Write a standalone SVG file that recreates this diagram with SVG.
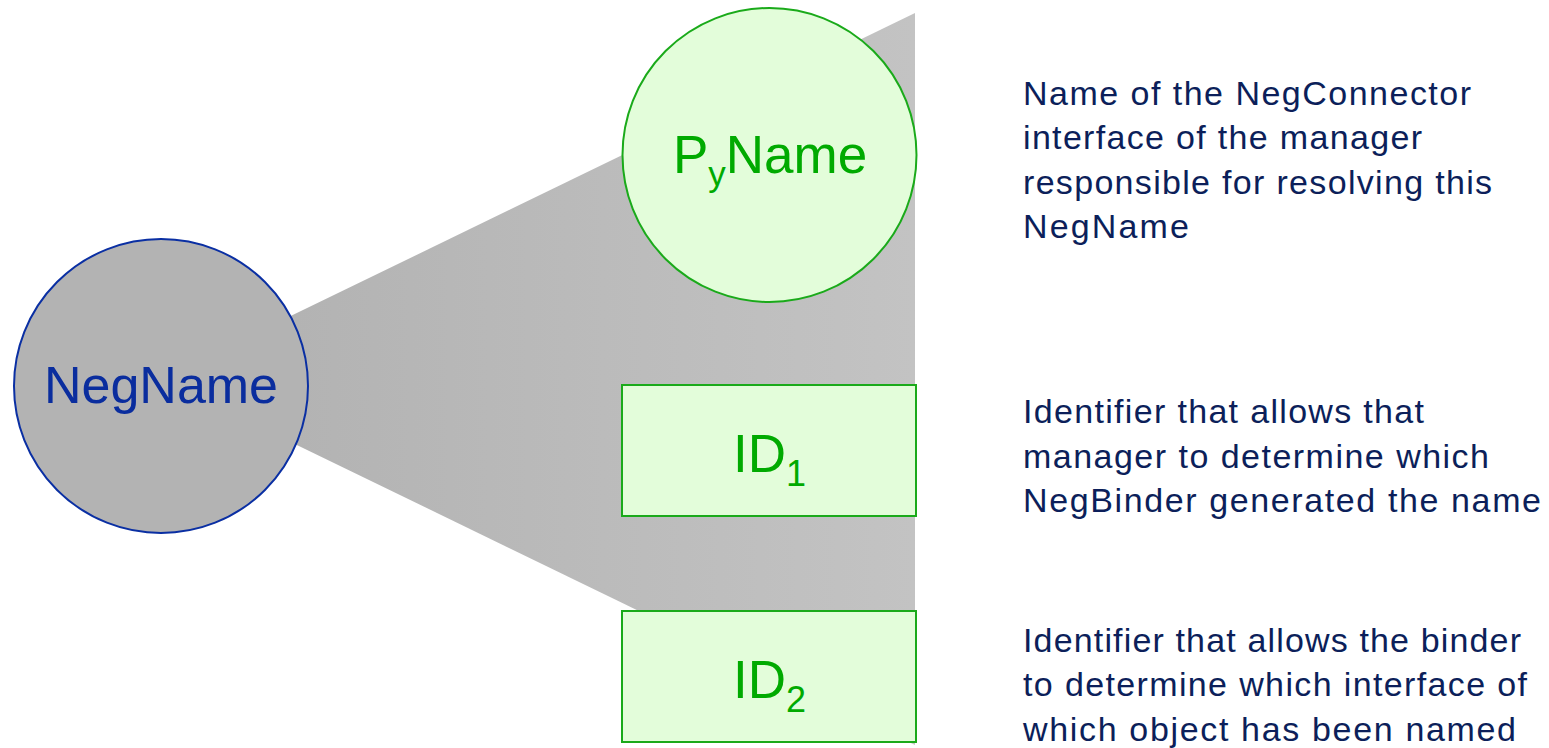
<svg xmlns="http://www.w3.org/2000/svg" width="1549" height="748" viewBox="0 0 1549 748">
  <defs>
    <linearGradient id="wedgeGrad" x1="295" y1="0" x2="915" y2="0" gradientUnits="userSpaceOnUse">
      <stop offset="0" stop-color="#b3b3b3"/>
      <stop offset="1" stop-color="#c3c3c3"/>
    </linearGradient>
    <style>
      .lbl { font-family: "Liberation Sans", Arial, sans-serif; }
      .green-shape { fill: #e3fdda; stroke: #1aaa1a; stroke-width: 2; }
      .green-text { fill: #00aa00; font-size: 53px; }
      .desc { fill: #0c1f5a; font-size: 34px; }
    </style>
  </defs>
  <rect width="1549" height="748" fill="#ffffff"/>

  <g id="connectors">
    <polygon points="161,379 915,13 915,745" fill="url(#wedgeGrad)"/>
  </g>

  <g id="negname">
    <circle cx="161" cy="386" r="147" fill="#b3b3b3" stroke="#0a2fa3" stroke-width="2"/>
    <text class="lbl" x="161" y="403" font-size="52" fill="#0a2d9e" text-anchor="middle">NegName</text>
  </g>

  <g id="pyname">
    <circle class="green-shape" cx="769.5" cy="155" r="147"/>
    <text class="lbl green-text" x="770" y="173" text-anchor="middle">P<tspan font-size="35" dy="13">y</tspan><tspan dy="-13">Name</tspan></text>
  </g>

  <g id="id1">
    <rect class="green-shape" x="622" y="385" width="294" height="131"/>
    <text class="lbl green-text" x="769.5" y="472" text-anchor="middle">ID<tspan font-size="36" dy="14">1</tspan></text>
  </g>

  <g id="id2">
    <rect class="green-shape" x="622" y="611" width="294" height="131"/>
    <text class="lbl green-text" x="769.5" y="698" text-anchor="middle">ID<tspan font-size="36" dy="14">2</tspan></text>
  </g>

  <g id="desc-pyname">
    <text class="lbl desc" x="1023" y="105" textLength="448" lengthAdjust="spacing">Name of the NegConnector</text>
    <text class="lbl desc" x="1023" y="149" textLength="399" lengthAdjust="spacing">interface of the manager</text>
    <text class="lbl desc" x="1023" y="194" textLength="469" lengthAdjust="spacing">responsible for resolving this</text>
    <text class="lbl desc" x="1023" y="238" textLength="166" lengthAdjust="spacing">NegName</text>
  </g>

  <g id="desc-id1">
    <text class="lbl desc" x="1023" y="423" textLength="401" lengthAdjust="spacing">Identifier that allows that</text>
    <text class="lbl desc" x="1023" y="468" textLength="466" lengthAdjust="spacing">manager to determine which</text>
    <text class="lbl desc" x="1023" y="512" textLength="518" lengthAdjust="spacing">NegBinder generated the name</text>
  </g>

  <g id="desc-id2">
    <text class="lbl desc" x="1023" y="652" textLength="498" lengthAdjust="spacing">Identifier that allows the binder</text>
    <text class="lbl desc" x="1023" y="696" textLength="504" lengthAdjust="spacing">to determine which interface of</text>
    <text class="lbl desc" x="1023" y="741" textLength="493" lengthAdjust="spacing">which object has been named</text>
  </g>
</svg>
